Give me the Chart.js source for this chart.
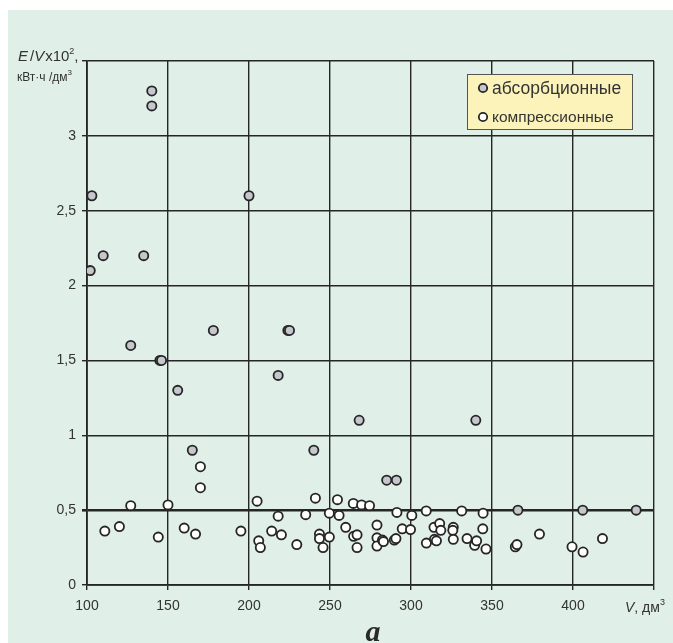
<!DOCTYPE html>
<html>
<head>
<meta charset="utf-8">
<style>
  html, body { margin: 0; padding: 0; background: #ffffff; }
  #wrap { width: 673px; height: 643px; position: relative; }
</style>
<script src="https://cdn.jsdelivr.net/npm/chart.js@4/dist/chart.umd.min.js"></script>
</head>
<body>
<div id="wrap"><canvas id="c" width="673" height="643"></canvas></div>
<script>
// Absorption refrigerators: volume V (dm³) and specific consumption E/V ×10²
const absV = [102, 103, 110, 135, 127, 140, 140, 145, 146, 156, 165, 178, 200, 218, 224, 225, 240, 268, 285, 291, 340, 366, 406, 439];
const absE = [2.1, 2.6, 2.2, 2.2, 1.6, 3.3, 3.2, 1.5, 1.5, 1.3, 0.9, 1.7, 2.6, 1.4, 1.7, 1.7, 0.9, 1.1, 0.7, 0.7, 1.1, 0.5, 0.5, 0.5];

// Compression refrigerators
const compV = [111, 120, 127, 144, 150, 160, 167, 170, 170, 195,
  205, 206, 207, 214, 218, 220, 229.5, 235, 241, 243.5,
  243.5, 245.7, 249.6, 249.6, 254.6, 255.6, 259.7, 264.4, 269.5, 274.4,
  264.6, 266.7, 266.7, 279, 279, 279, 282.4, 283, 289.7, 290.7,
  291.3, 294.6, 299.7, 300.5, 309.4, 309.5, 314.5, 315.7, 314.2, 317.7,
  318.4, 326.1, 325.8, 326.1, 331.3, 334.6, 339.3, 340.5, 344.5, 344.3,
  346.3, 364.4, 365.4, 379.3, 399.4, 406.2, 418.2];
const compE = [0.36, 0.39, 0.53, 0.32, 0.535, 0.38, 0.34, 0.79, 0.65, 0.36,
  0.56, 0.295, 0.25, 0.36, 0.46, 0.335, 0.27, 0.47, 0.58, 0.34,
  0.31, 0.25, 0.48, 0.32, 0.57, 0.465, 0.385, 0.545, 0.535, 0.53,
  0.325, 0.335, 0.25, 0.40, 0.315, 0.26, 0.30, 0.29, 0.30, 0.31,
  0.485, 0.375, 0.37, 0.465, 0.495, 0.28, 0.305, 0.295, 0.385, 0.41,
  0.365, 0.385, 0.365, 0.305, 0.495, 0.31, 0.265, 0.295, 0.48, 0.375,
  0.24, 0.255, 0.27, 0.34, 0.255, 0.22, 0.31];

const seriesNames = ['абсорбционные', 'компрессионные'];
const xTickValues = [100, 150, 200, 250, 300, 350, 400, 450];
const yTickValues = [0, 0.5, 1, 1.5, 2, 2.5, 3, 3.5];

const FONT = '"Liberation Sans", Arial, sans-serif';
const INK = '#262626';
const PANEL = '#e0efe7';

function toPoints(xs, ys) { return xs.map((x, i) => ({ x: x, y: ys[i] })); }

// Page background, panel, axis titles, legend box and caption
const decor = {
  id: 'decor',
  beforeDraw(chart) {
    const ctx = chart.ctx;
    ctx.save();
    ctx.fillStyle = '#ffffff';
    ctx.fillRect(0, 0, chart.width, chart.height);
    ctx.fillStyle = PANEL;
    ctx.fillRect(8, 10, chart.width - 8, chart.height - 10);
    ctx.restore();
  },
  afterDraw(chart) {
    const ctx = chart.ctx;
    const ds = chart.data.datasets;
    ctx.save();
    ctx.fillStyle = '#333333';
    ctx.textBaseline = 'alphabetic';

    // y-axis title: E/V x10², кВт·ч /дм³
    let x = 18, y = 61;
    ctx.font = 'italic 15px ' + FONT;
    ctx.fillText('E', x, y); x += ctx.measureText('E').width + 2;
    ctx.font = '15px ' + FONT;
    ctx.fillText('/', x, y); x += ctx.measureText('/').width;
    ctx.font = 'italic 15px ' + FONT;
    ctx.fillText('V', x, y); x += ctx.measureText('V').width + 1;
    ctx.font = '15px ' + FONT;
    ctx.fillText('x10', x, y); x += ctx.measureText('x10').width;
    ctx.font = '9px ' + FONT;
    ctx.fillText('2', x, y - 7); x += ctx.measureText('2').width;
    ctx.font = '15px ' + FONT;
    ctx.fillText(',', x, y);

    x = 17; y = 81;
    ctx.font = '12px ' + FONT;
    ctx.fillText('кВт·ч /дм', x, y); x += ctx.measureText('кВт·ч /дм').width;
    ctx.font = '8px ' + FONT;
    ctx.fillText('3', x, y - 6);

    // x-axis title: V, дм³
    x = 625; y = 612;
    ctx.font = 'italic 14px ' + FONT;
    ctx.fillText('V', x, y); x += ctx.measureText('V').width;
    ctx.font = '14px ' + FONT;
    ctx.fillText(', дм', x, y); x += ctx.measureText(', дм').width;
    ctx.font = '9px ' + FONT;
    ctx.fillText('3', x, y - 7);

    // legend box
    ctx.fillStyle = '#fcf3ba';
    ctx.fillRect(467, 74, 165, 55);
    ctx.strokeStyle = '#555555';
    ctx.lineWidth = 1;
    ctx.strokeRect(467.5, 74.5, 165, 55);
    const rows = [
      { y: 88, size: 17.5 },
      { y: 117, size: 15.5 }
    ];
    rows.forEach((r, i) => {
      ctx.beginPath();
      ctx.arc(483, r.y, 4.2, 0, Math.PI * 2);
      ctx.fillStyle = ds[i].backgroundColor;
      ctx.fill();
      ctx.lineWidth = 1.8;
      ctx.strokeStyle = INK;
      ctx.stroke();
      ctx.fillStyle = '#333333';
      ctx.font = r.size + 'px ' + FONT;
      ctx.textBaseline = 'middle';
      ctx.fillText(ds[i].label, 492, r.y + 1);
    });

    // caption
    ctx.textBaseline = 'alphabetic';
    ctx.textAlign = 'center';
    ctx.fillStyle = '#2a2a2a';
    ctx.font = 'italic bold 30px "Liberation Serif", "Times New Roman", serif';
    ctx.fillText('a', 373, 641);
    ctx.restore();
  }
};

new Chart(document.getElementById('c'), {
  type: 'scatter',
  data: {
    datasets: [
      {
        label: seriesNames[0],
        data: toPoints(absV, absE),
        backgroundColor: '#c6c7cc',
        borderColor: INK,
        borderWidth: 1.8,
        pointRadius: 4.6
      },
      {
        label: seriesNames[1],
        data: toPoints(compV, compE),
        backgroundColor: '#ffffff',
        borderColor: INK,
        borderWidth: 1.8,
        pointRadius: 4.6
      }
    ]
  },
  options: {
    responsive: false,
    animation: false,
    layout: { padding: { left: 37, right: 19, top: 61, bottom: 18 } },
    plugins: {
      legend: { display: false },
      tooltip: { enabled: false }
    },
    scales: {
      x: {
        type: 'linear',
        min: 100,
        max: 450,
        afterFit(scale) { scale.height = 40; },
        afterBuildTicks(scale) { scale.ticks = xTickValues.map(v => ({ value: v })); },
        ticks: {
          font: { family: FONT, size: 14 },
          color: '#333333',
          padding: 8,
          maxRotation: 0,
          callback: v => (v === 450 ? '' : String(v))
        },
        grid: {
          color: INK,
          lineWidth: 1.4,
          tickLength: 5,
          tickColor: INK
        },
        border: { color: INK, width: 1.8 }
      },
      y: {
        type: 'linear',
        min: 0,
        max: 3.5,
        afterFit(scale) { scale.width = 50; },
        afterBuildTicks(scale) { scale.ticks = yTickValues.map(v => ({ value: v })); },
        ticks: {
          font: { family: FONT, size: 14 },
          color: '#333333',
          padding: 6,
          callback: v => (v === 3.5 ? '' : String(v).replace('.', ','))
        },
        grid: {
          color: INK,
          lineWidth: c => (c.tick && c.tick.value === 0.5 ? 2.6 : 1.4),
          tickLength: 5,
          tickColor: INK
        },
        border: { color: INK, width: 1.8 }
      }
    }
  },
  plugins: [decor]
});
</script>
</body>
</html>
